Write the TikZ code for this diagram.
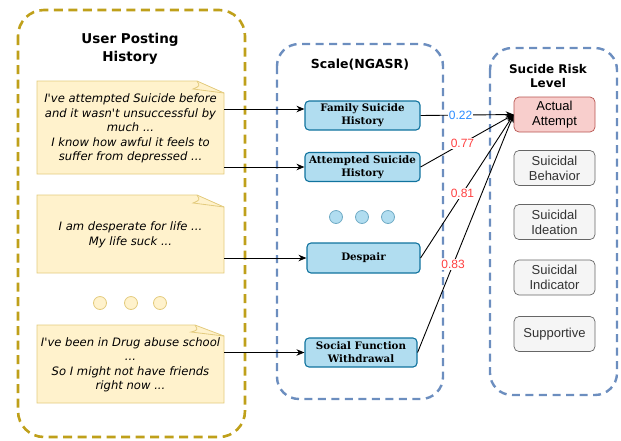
\documentclass[tikz,border=0pt]{standalone}
\usepackage{fontspec}
\setmainfont{Liberation Sans}
\newfontfamily\notefont{DejaVu Sans}[ItalicFont={DejaVu Sans Oblique}]
\newfontfamily\ttlfont{DejaVu Sans}
\newfontfamily\scafont{DejaVu Serif}
\usetikzlibrary{arrows.meta,calc}
\definecolor{olivec}{HTML}{BFA01A}
\definecolor{bluedash}{HTML}{6C8EBF}
\definecolor{notefill}{HTML}{FFF2CC}
\definecolor{notedraw}{HTML}{E3CB7E}
\definecolor{scafill}{HTML}{B1DDF0}
\definecolor{scadraw}{HTML}{10739E}
\definecolor{redfill}{HTML}{F8CECC}
\definecolor{reddraw}{HTML}{B85450}
\definecolor{grayfill}{HTML}{F5F5F5}
\definecolor{graydraw}{HTML}{666666}
\definecolor{graytext}{HTML}{333333}
\definecolor{lblblue}{HTML}{2B8CFF}
\definecolor{lblred}{HTML}{FF4040}
\tikzset{
  olivebox/.style={draw=olivec, line width=2.6pt, dash pattern=on 9pt off 5.5pt, rounded corners=26pt},
  bluebox/.style={draw=bluedash, line width=2.4pt, dash pattern=on 8pt off 5.5pt, rounded corners=22pt},
  notepath/.style={fill=notefill, draw=notedraw, line width=0.8pt},
  notetext/.style={font=\notefont\itshape\fontsize{11.6}{14.5}\selectfont, align=center, inner sep=0pt},
  scalebox/.style={rectangle, rounded corners=4pt, fill=scafill, draw=scadraw, line width=1.1pt,
    minimum width=115pt, minimum height=29pt, align=center, inner sep=0pt,
    font=\scafont\bfseries\fontsize{10.3}{13}\selectfont},
  riskbox/.style={rectangle, rounded corners=5pt, fill=grayfill, draw=graydraw, line width=0.7pt,
    text=graytext, minimum width=81pt, minimum height=35pt, align=center, inner sep=0pt,
    font=\fontsize{13}{15}\selectfont},
  ttl/.style={font=\ttlfont\bfseries\fontsize{13.5}{18}\selectfont, align=center, inner sep=0pt},
  ydot/.style={circle, fill=notefill, draw=notedraw, line width=0.8pt, minimum size=13pt, inner sep=0pt},
  bdot/.style={circle, fill=scafill, draw=scadraw!60, line width=0.8pt, minimum size=13pt, inner sep=0pt},
  arr/.style={line width=0.9pt, -{Stealth[length=8pt,width=6.5pt]}},
  lnk/.style={line width=0.9pt, -{Stealth[length=8pt,width=6.5pt]}},
  lbl/.style={fill=white, inner sep=1pt, font=\fontsize{12}{12}\selectfont}
}
\begin{document}
\begin{tikzpicture}[x=1pt,y=-1pt]
\useasboundingbox (0,0) rectangle (621,440);
% containers
\draw[olivebox] (18,10) rectangle (245,437);
\draw[bluebox] (277,44) rectangle (443,399);
\draw[bluebox] (490,48) rectangle (617,395);
% titles
\node[ttl] (t1) at (130,49) {User Posting\\History};
\node[ttl, font=\ttlfont\bfseries\fontsize{12.5}{15}\selectfont] (t2) at (360,65) {Scale(NGASR)};
\node[ttl, font=\ttlfont\bfseries\fontsize{12}{14}\selectfont] (t3) at (548,76) {Sucide Risk\\Level};
% notes
\path[notepath] (37,81) -- (197,81) -- (224,93) -- (224,174) -- (37,174) -- cycle;
\draw[notedraw, line width=0.8pt] (197,81) .. controls (200,86) .. (193,89) -- (224,93);
\path[notepath] (37,195) -- (197,195) -- (224,207) -- (224,273) -- (37,273) -- cycle;
\draw[notedraw, line width=0.8pt] (197,195) .. controls (200,200) .. (193,203) -- (224,207);
\path[notepath] (37,325) -- (195,325) -- (224,336) -- (224,403) -- (37,403) -- cycle;
\draw[notedraw, line width=0.8pt] (195,325) .. controls (198,330) .. (191,332) -- (224,336);
\node[notetext, minimum width=187pt, minimum height=93pt] (n1) at (130.5,128.5)
  {I\textquotesingle ve attempted Suicide before\\and it wasn\textquotesingle t unsuccessful by\\much ...\\I know how awful it feels to\\suffer from depressed ...};
\node[notetext, minimum width=187pt, minimum height=78pt] (n2) at (130.5,235)
  {I am desperate for life ...\\My life suck ...};
\node[notetext, minimum width=187pt, minimum height=78pt] (n3) at (130.5,365)
  {I\textquotesingle ve been in Drug abuse school\\...\\So I might not have friends\\right now ...};
% dots
\node[ydot] (y1) at (100,303) {};
\node[ydot] (y2) at (131,303) {};
\node[ydot] (y3) at (160,303) {};
\node[bdot] (b1) at (336,217) {};
\node[bdot] (b2) at (362,217) {};
\node[bdot] (b3) at (388,217) {};
% scale boxes
\node[scalebox] (fam) at (362.5,115.5) {Family Suicide\\History};
\node[scalebox] (att) at (362.5,167) {Attempted Suicide\\History};
\node[scalebox, minimum width=113pt, minimum height=30pt] (desp) at (363.5,258) {Despair};
\node[scalebox, minimum width=112pt] (soc) at (361,352.5) {Social Function\\Withdrawal};
% risk boxes
\node[riskbox, fill=redfill, draw=reddraw, text=black] (aa) at (554.5,114.5) {Actual\\Attempt};
\node[riskbox] (sb) at (554.5,168) {Suicidal\\Behavior};
\node[riskbox] (si) at (554.5,222) {Suicidal\\Ideation};
\node[riskbox] (sind) at (554.5,277.5) {Suicidal\\Indicator};
\node[riskbox] (sup) at (554.5,334) {Supportive};
% arrows notes -> scale
\coordinate (famin) at ([yshift=6.5pt]fam.west);
\draw[arr] (n1.east |- famin) -- (famin);
\draw[arr] (n1.east |- att.west) -- (att.west);
\draw[arr] (n2.east |- desp.west) -- (desp.west);
\draw[arr] (n3.east |- soc.west) -- (soc.west);
% links scale -> risk
\draw[lnk] (fam.east) -- node[lbl, text=lblblue, pos=0.43] {0.22} (aa.west);
\draw[lnk] (att.east) -- node[lbl, text=lblred, pos=0.45] {0.77} (aa.west);
\draw[lnk] (desp.east) -- node[lbl, text=lblred, pos=0.45] {0.81} (aa.west);
\draw[lnk] (soc.east) -- node[lbl, text=lblred, pos=0.37] {0.83} (aa.west);
\end{tikzpicture}
\end{document}
